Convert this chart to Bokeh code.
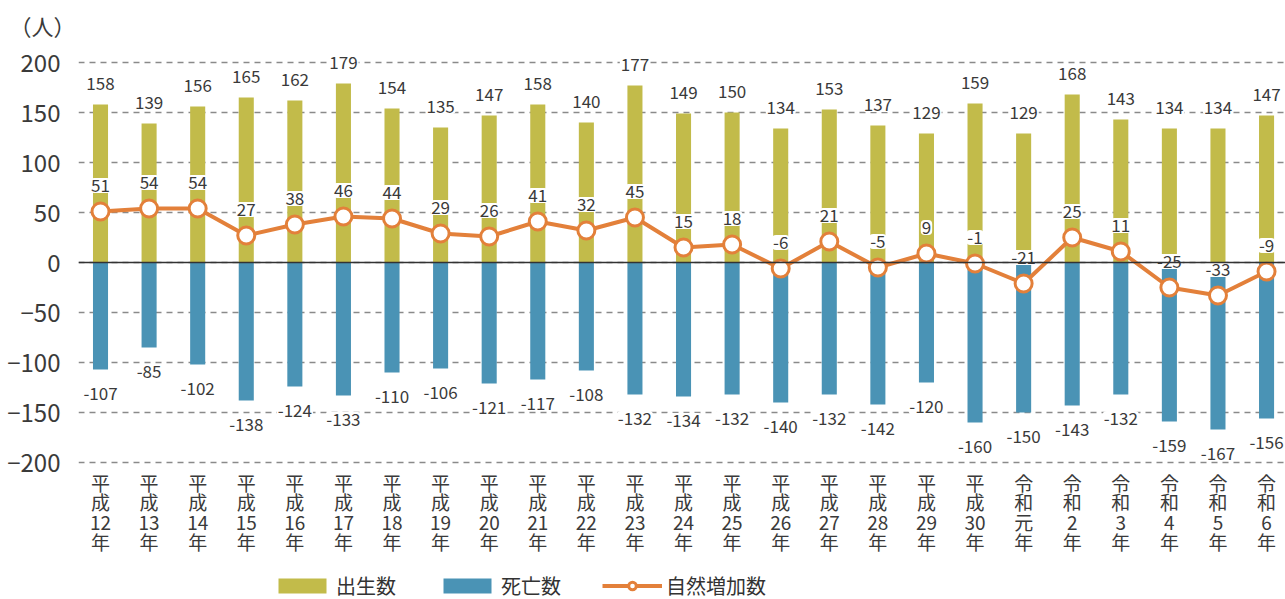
from bokeh.plotting import figure
from bokeh.models import (ColumnDataSource, Range1d, FixedTicker, Span,
                          Legend, LegendItem)
from bokeh.embed import file_html
from bokeh.resources import INLINE
from bokeh.core.properties import value

categories = ["平\n成\n12\n年", "平\n成\n13\n年", "平\n成\n14\n年", "平\n成\n15\n年",
              "平\n成\n16\n年", "平\n成\n17\n年", "平\n成\n18\n年", "平\n成\n19\n年",
              "平\n成\n20\n年", "平\n成\n21\n年", "平\n成\n22\n年", "平\n成\n23\n年",
              "平\n成\n24\n年", "平\n成\n25\n年", "平\n成\n26\n年", "平\n成\n27\n年",
              "平\n成\n28\n年", "平\n成\n29\n年", "平\n成\n30\n年", "令\n和\n元\n年",
              "令\n和\n2\n年", "令\n和\n3\n年", "令\n和\n4\n年", "令\n和\n5\n年",
              "令\n和\n6\n年"]
births = [158, 139, 156, 165, 162, 179, 154, 135, 147, 158, 140, 177, 149,
          150, 134, 153, 137, 129, 159, 129, 168, 143, 134, 134, 147]
deaths = [-107, -85, -102, -138, -124, -133, -110, -106, -121, -117, -108, -132,
          -134, -132, -140, -132, -142, -120, -160, -150, -143, -132, -159, -167, -156]
net = [51, 54, 54, 27, 38, 46, 44, 29, 26, 41, 32, 45, 15, 18, -6, 21, -5, 9,
       -1, -21, 25, 11, -25, -33, -9]
y_ticks = [-200, -150, -100, -50, 0, 50, 100, 150, 200]

OLIVE = "#C2BB4A"
BLUE = "#4A93B5"
ORANGE = "#E3803A"
TEXT = "#3a3a3a"
FONT = "Noto Sans CJK JP"

xs = list(range(len(categories)))
src = ColumnDataSource(dict(
    x=xs, births=births, deaths=deaths, net=net,
    b_txt=[str(v) for v in births],
    d_txt=[str(v) for v in deaths],
    n_txt=[str(v) for v in net],
    cat=categories,
    base=[y_ticks[0]] * len(categories),
))

p = figure(width=1285, height=599, output_backend="svg", toolbar_location=None,
           x_range=Range1d(-0.453, 24.39), y_range=Range1d(-337, 222),
           min_border_left=78, min_border_right=0, min_border_top=40,
           min_border_bottom=0)
p.outline_line_color = None
p.background_fill_color = "white"
p.border_fill_color = "white"

# unit label as title
p.title.text = "（人）"
p.title.text_font = FONT
p.title.text_font_size = "22px"
p.title.text_font_style = "normal"
p.title.text_color = TEXT
p.title.align = "left"
p.title.offset = -69
p.title.standoff = 0

# axes
p.xaxis.visible = False
p.yaxis.ticker = FixedTicker(ticks=y_ticks)
p.yaxis.axis_line_color = None
p.yaxis.major_tick_line_color = None
p.yaxis.minor_tick_line_color = None
p.yaxis.major_label_text_font = FONT
p.yaxis.major_label_text_font_size = "24px"
p.yaxis.major_label_text_color = TEXT
p.yaxis.major_label_standoff = 12

p.xgrid.grid_line_color = None
p.ygrid.ticker = FixedTicker(ticks=y_ticks)
p.ygrid.grid_line_color = "#8a8a8a"
p.ygrid.grid_line_dash = "6 5"
p.ygrid.grid_line_width = 1.5

# bars
rb = p.vbar(x="x", top="births", bottom=0, width=0.31, source=src,
            fill_color=OLIVE, line_color=None)
rd = p.vbar(x="x", top=0, bottom="deaths", width=0.31, source=src,
            fill_color=BLUE, line_color=None)

p.add_layout(Span(location=0, dimension="width", line_color="#333333", line_width=1.5))

# net line
rl = p.line(x="x", y="net", source=src, line_color=ORANGE, line_width=4)
rs = p.scatter(x="x", y="net", source=src, size=17, marker="circle",
               fill_color="white", line_color=ORANGE, line_width=3)

common = dict(text_font=value(FONT), text_font_size="17px", text_color=TEXT,
              text_align="center", text_baseline="middle",
              background_fill_color="white", padding=1, border_radius=4)
p.text(x="x", y="births", text="b_txt", source=src, y_offset=-21, **common)
p.text(x="x", y="deaths", text="d_txt", source=src, y_offset=24, **common)
p.text(x="x", y="net", text="n_txt", source=src, y_offset=-26, **common)

# category labels (vertical, stacked characters)
p.text(x="x", y="base", text="cat", source=src, y_offset=6,
       text_font=value(FONT), text_font_size="19px", text_color=TEXT,
       text_align="center", text_baseline="top", text_line_height=0.73)

legend = Legend(items=[
    LegendItem(label="出生数", renderers=[rb]),
    LegendItem(label="死亡数", renderers=[rd]),
    LegendItem(label="自然増加数", renderers=[rl, rs]),
], orientation="horizontal", location=(194, -1),
    glyph_width=60, glyph_height=19, label_standoff=4, spacing=41,
    label_text_font=FONT, label_text_font_size="20px", label_text_color="#333333",
    label_text_font_style="normal", border_line_color=None,
    background_fill_alpha=0, padding=0, margin=0)
p.add_layout(legend)

open("out.html", "w").write(file_html(p, INLINE))
